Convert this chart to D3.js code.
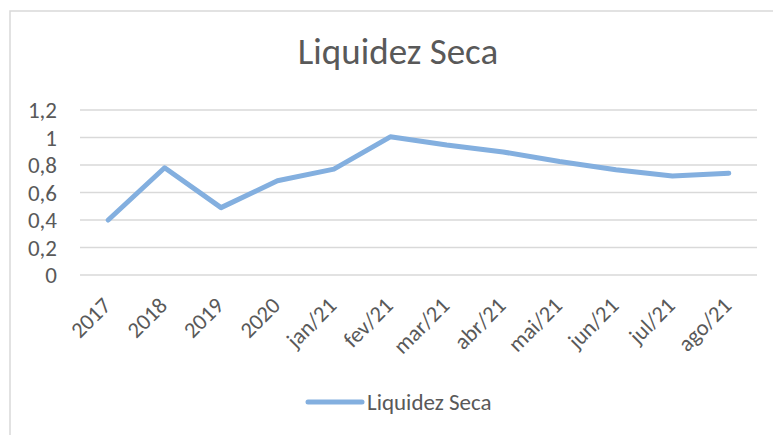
<!DOCTYPE html>
<html>
<head>
<meta charset="utf-8">
<script src="https://cdn.jsdelivr.net/npm/d3@7"></script>
<style>
  body { margin: 0; background: #fff; }
  text { font-family: Carlito, Lato, "Open Sans", sans-serif; fill: #595959; }
</style>
</head>
<body>
<svg></svg>
<script>
var width = 773,
    height = 435;

var categories = ["2017", "2018", "2019", "2020", "jan/21", "fev/21", "mar/21", "abr/21", "mai/21", "jun/21", "jul/21", "ago/21"];
var values = [0.40, 0.78, 0.49, 0.685, 0.77, 1.005, 0.945, 0.895, 0.825, 0.765, 0.72, 0.74];
var yTicks = [0, 0.2, 0.4, 0.6, 0.8, 1, 1.2];
var seriesName = "Liquidez Seca";

var svg = d3.select('svg')
            .attr('width', width)
            .attr('height', height);

// chart area border (only left & top visible in the shot)
svg.append('path')
   .attr('d', 'M10,435 V11 H773')
   .attr('fill', 'none')
   .attr('stroke', '#d9d9d9')
   .attr('stroke-width', 1.5);

var x = d3.scaleBand()
          .domain(categories)
          .range([80, 757]);

var y = d3.scaleLinear()
          .domain([0, 1.2])
          .range([275, 110]);

var fmt = d => d3.format('.1f')(d).replace('.0', '').replace('.', ',');

// gridlines
svg.append('g')
   .selectAll('line')
   .data(yTicks)
   .enter()
   .append('line')
     .attr('x1', 80)
     .attr('x2', 757)
     .attr('y1', d => y(d))
     .attr('y2', d => y(d))
     .attr('stroke', '#d9d9d9')
     .attr('stroke-width', 1.3);

// y labels
svg.append('g')
   .selectAll('text')
   .data(yTicks)
   .enter()
   .append('text')
     .attr('x', 57)
     .attr('y', d => y(d))
     .attr('dy', '0.35em')
     .style('text-anchor', 'end')
     .style('font-size', '23px')
     .text(fmt);

// x labels, rotated
svg.append('g')
   .selectAll('text')
   .data(categories)
   .enter()
   .append('text')
     .attr('transform', d => 'translate(' + (x(d) + x.bandwidth() / 2 + 4) + ',' + 307 + ') rotate(-45)')
     .style('text-anchor', 'end')
     .style('font-size', '22.5px')
     .text(d => d);

var line = d3.line()
             .x((d, i) => x(categories[i]) + x.bandwidth() / 2)
             .y(d => y(d));

svg.append('path')
   .datum(values)
   .attr('d', line)
   .attr('fill', 'none')
   .attr('stroke', '#83afdf')
   .attr('stroke-width', 5)
   .attr('stroke-linejoin', 'round')
   .attr('stroke-linecap', 'round');

// title
svg.append('text')
   .attr('x', 398)
   .attr('y', 64)
   .style('text-anchor', 'middle')
   .style('font-size', '37px')
   .text(seriesName);

// legend
svg.append('line')
   .attr('x1', 308).attr('x2', 362)
   .attr('y1', 402).attr('y2', 402)
   .attr('stroke', '#83afdf')
   .attr('stroke-width', 5)
   .attr('stroke-linecap', 'round');

svg.append('text')
   .attr('x', 367)
   .attr('y', 410)
   .style('font-size', '23px')
   .text(seriesName);
</script>
</body>
</html>
